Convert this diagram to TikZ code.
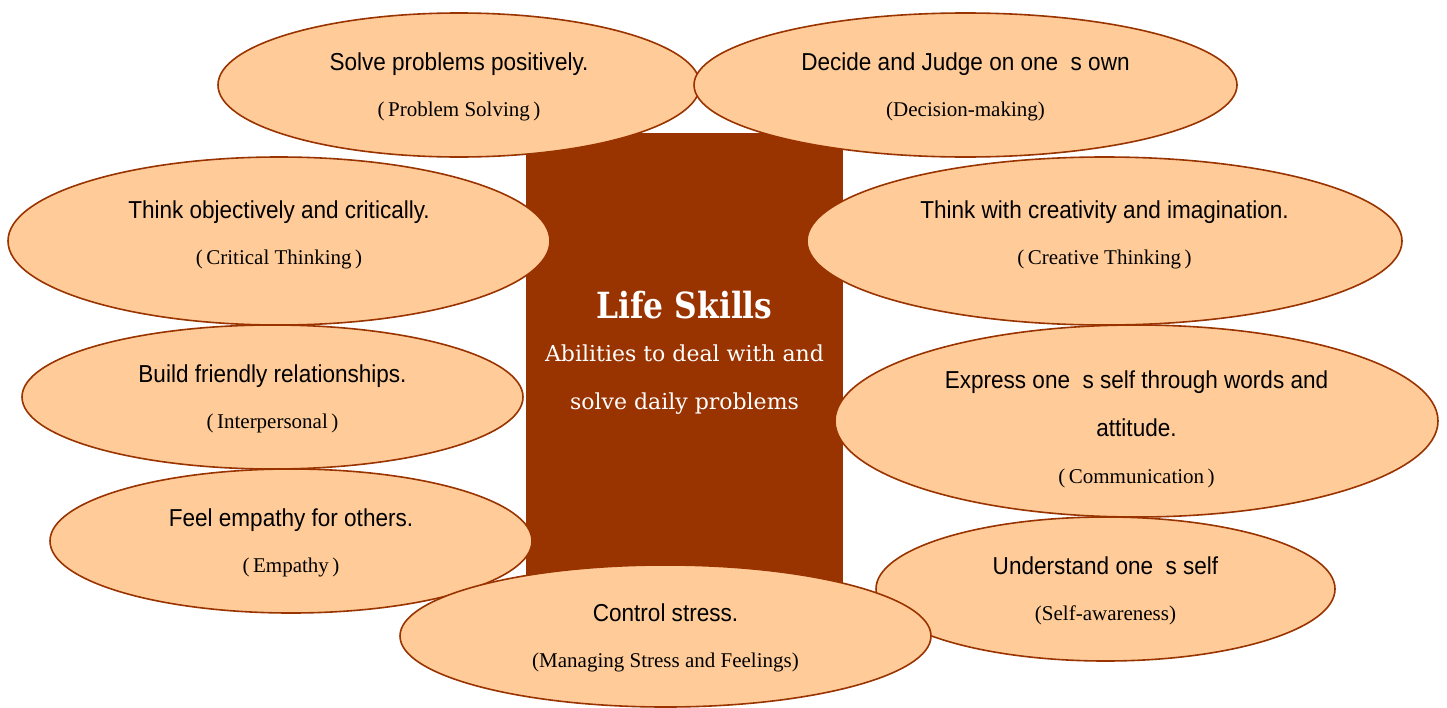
\documentclass[tikz,border=0pt]{standalone}
\usepackage{fontspec}
\usetikzlibrary{shapes.geometric,calc}
\newfontfamily\skillsans[FakeStretch=0.92]{Liberation Sans}
\newfontfamily\skillserif{Liberation Serif}
\newfontfamily\centerserif{DejaVu Serif}
\newfontfamily\titleserif[FakeStretch=0.87]{DejaVu Serif}
\definecolor{peach}{HTML}{FFCC99}
\definecolor{rust}{HTML}{993300}
\tikzset{
  skill/.style={ellipse, draw=rust, fill=peach, line width=1.6pt, inner sep=0pt},
  mainline/.style={anchor=base, inner sep=0pt, font=\skillsans\fontsize{24.5}{24.5}\selectfont, text=black},
  subline/.style={anchor=base, inner sep=0pt, font=\skillserif\fontsize{21}{21}\selectfont, text=black},
  centerbox/.style={fill=rust, draw=none, inner sep=0pt, minimum width=317pt, minimum height=467pt},
  centertext/.style={anchor=base, inner sep=0pt, text=white}
}
\begin{document}
\begin{tikzpicture}[x=1pt,y=-1pt]
\useasboundingbox (0,0) rectangle (1447,707);
% central box
\node[centerbox] (box) at (684.5,366.5) {};
% ellipses (order matters for overlaps)
\node[skill, minimum width=482pt, minimum height=144pt] (e1) at (459,85) {};
\node[skill, minimum width=543pt, minimum height=144pt] (e2) at (965.5,85) {};
\node[skill, minimum width=542pt, minimum height=168pt] (e3) at (279,241) {};
\node[skill, minimum width=595pt, minimum height=168pt] (e4) at (1104.5,241) {};
\node[skill, minimum width=501pt, minimum height=144pt] (e5) at (272.5,397) {};
\node[skill, minimum width=603pt, minimum height=192pt] (e6) at (1136.5,421) {};
\node[skill, minimum width=482pt, minimum height=144pt] (e7) at (291,541) {};
\node[skill, minimum width=459pt, minimum height=144pt] (e8) at (1105.5,589) {};
\node[skill, minimum width=531pt, minimum height=142pt] (e9) at (665.5,636) {};
% central texts
\node[centertext, font=\titleserif\bfseries\fontsize{36}{36}\selectfont] (title) at ($(box.center)+(0,-48)$) {Life Skills};
\node[centertext, font=\centerserif\fontsize{22}{22}\selectfont] (sub1) at ($(box.center)+(0,-5)$) {Abilities to deal with and};
\node[centertext, font=\centerserif\fontsize{22}{22}\selectfont] (sub2) at ($(box.center)+(0,43)$) {solve daily problems};
% ellipse texts
\node[mainline] (t1a) at ($(e1.center)+(0,-15)$) {Solve problems positively.};
\node[subline]  (t1b) at ($(e1.center)+(0,31)$) {(\,Problem Solving\,)};
\node[mainline] (t2a) at ($(e2.center)+(0,-15)$) {Decide and Judge on one\ \ s own};
\node[subline]  (t2b) at ($(e2.center)+(0,31)$) {(Decision-making)};
\node[mainline] (t3a) at ($(e3.center)+(0,-23)$) {Think objectively and critically.};
\node[subline]  (t3b) at ($(e3.center)+(0,23)$) {(\,Critical Thinking\,)};
\node[mainline] (t4a) at ($(e4.center)+(0,-23)$) {Think with creativity and imagination.};
\node[subline]  (t4b) at ($(e4.center)+(0,23)$) {(\,Creative Thinking\,)};
\node[mainline] (t5a) at ($(e5.center)+(0,-15)$) {Build friendly relationships.};
\node[subline]  (t5b) at ($(e5.center)+(0,31)$) {(\,Interpersonal\,)};
\node[mainline] (t6a) at ($(e6.center)+(0,-33)$) {Express one\ \ s self through words and};
\node[mainline] (t6b) at ($(e6.center)+(0,15)$) {attitude.};
\node[subline]  (t6c) at ($(e6.center)+(0,62)$) {(\,Communication\,)};
\node[mainline] (t7a) at ($(e7.center)+(0,-15)$) {Feel empathy for others.};
\node[subline]  (t7b) at ($(e7.center)+(0,31)$) {(\,Empathy\,)};
\node[mainline] (t8a) at ($(e8.center)+(0,-15)$) {Understand one\ \ s self};
\node[subline]  (t8b) at ($(e8.center)+(0,31)$) {(Self-awareness)};
\node[mainline] (t9a) at ($(e9.center)+(0,-15)$) {Control stress.};
\node[subline]  (t9b) at ($(e9.center)+(0,31)$) {(Managing Stress and Feelings)};
\end{tikzpicture}
\end{document}
